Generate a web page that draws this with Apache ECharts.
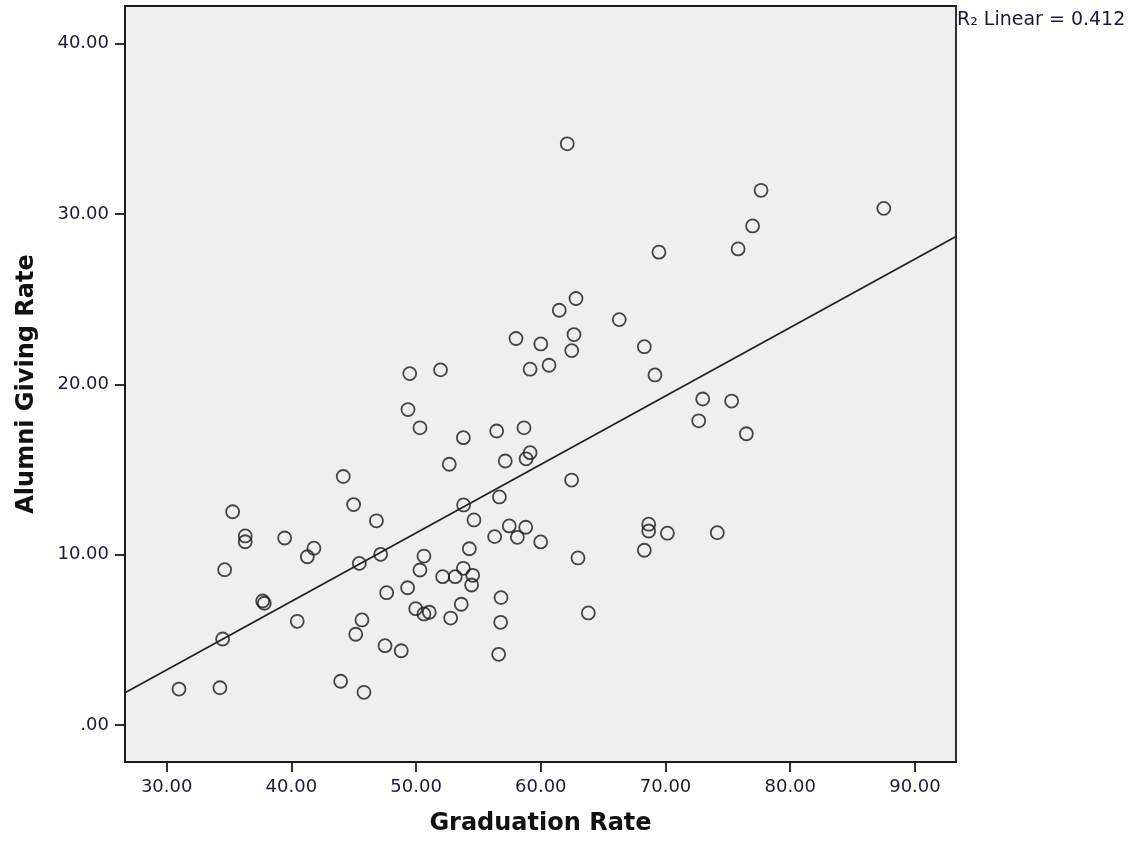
<!DOCTYPE html>
<html>
<head>
<meta charset="utf-8">
<script src="https://cdn.jsdelivr.net/npm/echarts@6/dist/echarts.min.js"></script>
<style>
html,body{margin:0;padding:0;background:#fff;}
#chart{width:1144px;height:841px;}
</style>
</head>
<body>
<div id="chart"></div>
<script>
// Graduation Rate (x) values
const gradRate = [
  62.12, 77.66, 87.5, 76.98, 75.82, 69.47, 62.82, 61.48, 66.29, 62.66,
  58.01, 60.00, 68.30, 62.48, 60.66, 59.14, 49.49, 51.96, 69.15, 49.35,
  72.98, 75.30, 72.66, 76.48, 50.31, 56.46, 58.65, 53.79, 59.14, 58.82,
  57.15, 52.66, 62.47, 44.16, 56.68, 53.81, 44.99, 35.29, 54.64, 46.82,
  36.30, 36.30, 39.46, 41.81, 41.28, 57.47, 58.79, 56.30, 58.12, 59.99,
  54.27, 50.63, 47.16, 45.45, 34.65, 50.31, 53.79, 52.13, 53.14, 54.54,
  54.45, 49.32, 47.64, 37.70, 37.83, 56.81, 53.62, 49.97, 50.63, 51.06,
  52.77, 40.47, 45.66, 56.78, 45.16, 34.49, 47.51, 48.81, 56.62, 43.95,
  30.99, 34.27, 45.82, 68.65, 68.65, 70.15, 74.15, 68.30, 62.98, 63.81
];
// Alumni Giving Rate (y) values
const givingRate = [
  34.12, 31.39, 30.33, 29.30, 27.95, 27.76, 25.04, 24.35, 23.80, 22.92,
  22.69, 22.37, 22.21, 21.98, 21.12, 20.89, 20.63, 20.85, 20.55, 18.52,
  19.14, 19.02, 17.86, 17.10, 17.45, 17.26, 17.45, 16.87, 15.99, 15.63,
  15.50, 15.31, 14.38, 14.59, 13.39, 12.92, 12.94, 12.52, 12.04, 11.99,
  11.10, 10.76, 10.98, 10.38, 9.88, 11.69, 11.61, 11.06, 11.02, 10.75,
  10.35, 9.92, 10.02, 9.49, 9.12, 9.10, 9.20, 8.71, 8.71, 8.79,
  8.22, 8.06, 7.77, 7.28, 7.15, 7.48, 7.09, 6.83, 6.52, 6.62,
  6.28, 6.09, 6.17, 6.03, 5.33, 5.05, 4.66, 4.36, 4.15, 2.57,
  2.11, 2.19, 1.92, 11.79, 11.39, 11.26, 11.29, 10.26, 9.81, 6.58
];
// Fit line
const fitIntercept = -8.82;
const fitSlope = 0.402;
const r2Text = 'R\u2082 Linear = 0.412';
// Axis ticks
const xTicks = [30, 40, 50, 60, 70, 80, 90];
const yTicks = [0, 10, 20, 30, 40];
const xRange = [26.66, 93.29];
const yRange = [-2.17, 42.21];

const points = gradRate.map((x, i) => [x, givingRate[i]]);
const fitData = xRange.map(x => [x, fitIntercept + fitSlope * x]);

const fmt = v => (v === 0 ? '.00' : v.toFixed(2));
const labelColor = '#1a1a36';
const fontFam = '"DejaVu Sans", sans-serif';

const chart = echarts.init(document.getElementById('chart'), null, {renderer: 'canvas'});
chart.setOption({
  animation: false,
  backgroundColor: '#ffffff',
  grid: {
    left: 125, top: 6, right: 188, bottom: 79,
    outerBoundsMode: 'none', containLabel: false,
    show: true, backgroundColor: '#efefef', borderColor: '#1a1a1a', borderWidth: 1.8
  },
  xAxis: {
    type: 'value', min: xRange[0], max: xRange[1],
    name: 'Graduation Rate', nameLocation: 'middle', nameGap: 50,
    nameTextStyle: {fontFamily: fontFam, fontWeight: 'bold', fontSize: 24, color: '#111'},
    axisLine: {show: true, onZero: false, lineStyle: {color: '#1a1a1a', width: 1.8}},
    axisTick: {show: true, length: 10, customValues: xTicks, lineStyle: {color: '#1a1a1a', width: 1.8}},
    axisLabel: {customValues: xTicks, formatter: fmt, margin: 16, fontFamily: fontFam, fontSize: 18, color: labelColor},
    splitLine: {show: false}
  },
  yAxis: {
    type: 'value', min: yRange[0], max: yRange[1],
    name: 'Alumni Giving Rate', nameLocation: 'middle', nameGap: 86, nameRotate: 90,
    nameTextStyle: {fontFamily: fontFam, fontWeight: 'bold', fontSize: 24, color: '#111'},
    axisLine: {show: true, onZero: false, lineStyle: {color: '#1a1a1a', width: 1.8}},
    axisTick: {show: true, length: 10, customValues: yTicks, lineStyle: {color: '#1a1a1a', width: 1.8}},
    axisLabel: {customValues: yTicks, formatter: fmt, margin: 16, fontFamily: fontFam, fontSize: 18, color: labelColor},
    splitLine: {show: false}
  },
  graphic: [{
    type: 'text', left: 957, top: 11,
    style: {text: r2Text, fontFamily: fontFam, fontSize: 19, fill: labelColor}
  }],
  series: [
    {
      type: 'line', data: fitData, showSymbol: false, symbol: 'none',
      lineStyle: {color: '#222', width: 1.8}, z: 2, silent: true
    },
    {
      type: 'scatter', data: points, symbol: 'circle', symbolSize: 13,
      itemStyle: {color: 'rgba(0,0,0,0)', borderColor: '#1a1a1a', borderWidth: 1.8},
      z: 3
    }
  ]
});
</script>
</body>
</html>
